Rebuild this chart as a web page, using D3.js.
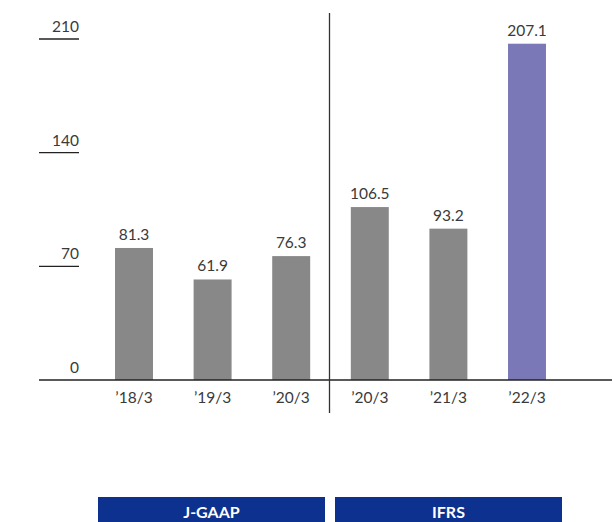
<!DOCTYPE html>
<html><head><meta charset="utf-8">
<script src="https://cdn.jsdelivr.net/npm/d3@7"></script>
<style>body{margin:0;background:#fff;} svg{display:block;} text{font-family:Lato,"Noto Sans",sans-serif;}</style>
</head><body>
<svg id="c" width="614" height="522"></svg>
<script>
const categories = ["\u201918/3","\u201919/3","\u201920/3","\u201920/3","\u201921/3","\u201922/3"];
const values = [81.3, 61.9, 76.3, 106.5, 93.2, 207.1];
const standards = ["J-GAAP","J-GAAP","J-GAAP","IFRS","IFRS","IFRS"];
const yTicks = [0, 70, 140, 210];
const groups = ["J-GAAP","IFRS"];

const svg = d3.select("#c");
const y = d3.scaleLinear().domain([0,210]).range([380,39]);
const x = d3.scaleBand().domain(d3.range(categories.length)).range([94.7,566.3]).paddingInner(0.517).paddingOuter(0.2585);
const bw = x.bandwidth();

// y tick lines + labels
const yt = svg.append("g");
yTicks.forEach(t=>{
  if(t>0) yt.append("line").attr("x1",39).attr("x2",79).attr("y1",y(t)).attr("y2",y(t)).attr("stroke","#222").attr("stroke-width",1.3);
  yt.append("text").attr("x",79).attr("y",y(t)-7).attr("text-anchor","end").attr("font-size",15.5).attr("fill","#3a3a3a").text(t);
});

// bars
svg.append("g").selectAll("rect").data(values).join("rect")
  .attr("x",(d,i)=>x(i)).attr("width",bw)
  .attr("y",d=>y(d)).attr("height",d=>y(0)-y(d))
  .attr("fill",(d,i)=>i===values.length-1?"#7a78b6":"#888888");

// value labels
svg.append("g").selectAll("text").data(values).join("text")
  .attr("x",(d,i)=>x(i)+bw/2).attr("y",d=>y(d)-8)
  .attr("text-anchor","middle").attr("font-size",15.5).attr("fill","#3a3a3a")
  .text(d=>d.toFixed(1));

// baseline
svg.append("line").attr("x1",39).attr("x2",612).attr("y1",y(0)).attr("y2",y(0)).attr("stroke","#222").attr("stroke-width",1.3);

// x labels
svg.append("g").selectAll("text").data(categories).join("text")
  .attr("x",(d,i)=>x(i)+bw/2).attr("y",403)
  .attr("text-anchor","middle").attr("font-size",15.5).attr("fill","#3a3a3a")
  .text(d=>d);

// divider
const divX = (x(2)+bw/2 + x(3)+bw/2)/2 - 1;
svg.append("line").attr("x1",divX).attr("x2",divX).attr("y1",13).attr("y2",413).attr("stroke","#333").attr("stroke-width",1.3);

// standard boxes
const boxes = [{name:groups[0],x0:98,x1:325},{name:groups[1],x0:335,x1:562}];
const bg = svg.append("g");
boxes.forEach(b=>{
  bg.append("rect").attr("x",b.x0).attr("y",497).attr("width",b.x1-b.x0).attr("height",30).attr("fill","#0c318f");
  bg.append("text").attr("x",(b.x0+b.x1)/2).attr("y",518).attr("text-anchor","middle").attr("font-size",16).attr("font-weight","bold").attr("fill","#fff").text(b.name);
});
</script>
</body></html>
